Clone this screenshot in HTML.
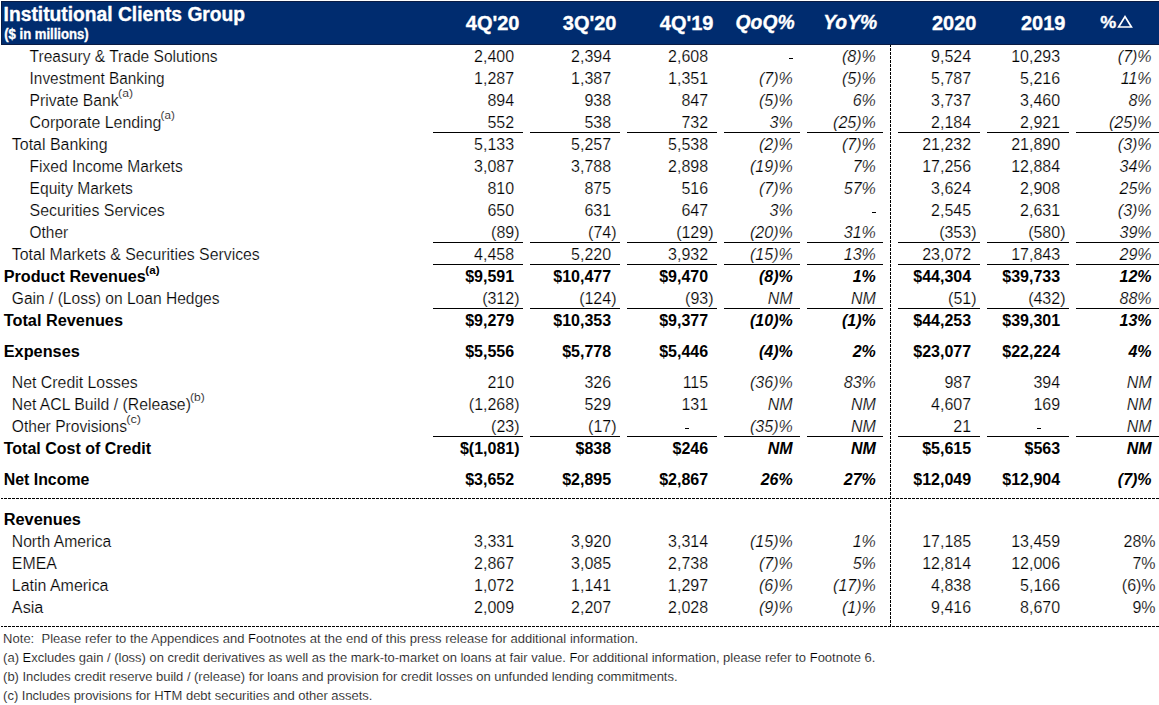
<!DOCTYPE html>
<html><head><meta charset="utf-8"><title>Institutional Clients Group</title>
<style>
html,body{margin:0;padding:0;background:#fff;width:1159px;height:705px;overflow:hidden}
svg{display:block}
text{font-family:"Liberation Sans",sans-serif}
text.t{stroke:#fff;stroke-width:0.2px}
text.h{stroke:#fff;stroke-width:0.35px}
</style></head><body>
<svg width="1159" height="705" viewBox="0 0 1159 705">
<rect x="0" y="0" width="1159" height="705" fill="#fff"/>
<rect x="1" y="1" width="1158" height="44" fill="#002C6F"/>
<rect x="1" y="1" width="1158" height="1" fill="#0A1C44"/>
<rect x="1" y="44" width="1158" height="1" fill="#0A1C44"/>
<rect x="1" y="1" width="1" height="44" fill="#0A1C44"/>
<text class="h" x="3.6" y="21" font-size="20" font-weight="bold" font-style="normal" text-anchor="start" fill="#fff" textLength="241.5" lengthAdjust="spacingAndGlyphs">Institutional Clients Group</text>
<text class="h" x="4.2" y="39" font-size="13.8" font-weight="bold" font-style="normal" text-anchor="start" fill="#fff" textLength="84.5" lengthAdjust="spacingAndGlyphs">($ in millions)</text>
<text class="h" x="519.5" y="30" font-size="20" font-weight="bold" font-style="normal" text-anchor="end" fill="#fff">4Q&#x27;20</text>
<text class="h" x="616.5" y="30" font-size="20" font-weight="bold" font-style="normal" text-anchor="end" fill="#fff">3Q&#x27;20</text>
<text class="h" x="713.5" y="30" font-size="20" font-weight="bold" font-style="normal" text-anchor="end" fill="#fff">4Q&#x27;19</text>
<text class="h" x="794.6" y="29" font-size="20" font-weight="bold" font-style="italic" text-anchor="end" fill="#fff" textLength="59.0" lengthAdjust="spacingAndGlyphs">QoQ%</text>
<text class="h" x="877.2" y="29" font-size="20" font-weight="bold" font-style="italic" text-anchor="end" fill="#fff" textLength="54.0" lengthAdjust="spacingAndGlyphs">YoY%</text>
<text class="h" x="976.5" y="30" font-size="20" font-weight="bold" font-style="normal" text-anchor="end" fill="#fff">2020</text>
<text class="h" x="1065.5" y="30" font-size="20" font-weight="bold" font-style="normal" text-anchor="end" fill="#fff">2019</text>
<text class="h" x="1100.3" y="28" font-size="17" font-weight="bold" font-style="normal" text-anchor="start" fill="#fff" textLength="16" lengthAdjust="spacingAndGlyphs" stroke="#fff" stroke-width="0.5">%</text>
<path d="M1118.6 27 L1125 16.6 L1131.4 27 Z" fill="none" stroke="#fff" stroke-width="1.7" stroke-linejoin="miter"/>
<text class="t" x="29.6" y="62" font-size="16" font-weight="normal" textLength="187.98" lengthAdjust="spacingAndGlyphs">Treasury &amp; Trade Solutions</text>
<text class="t" x="514.17" y="62" font-size="16" font-weight="normal" font-style="normal" text-anchor="end" fill="#000">2,400</text>
<text class="t" x="611.17" y="62" font-size="16" font-weight="normal" font-style="normal" text-anchor="end" fill="#000">2,394</text>
<text class="t" x="708.17" y="62" font-size="16" font-weight="normal" font-style="normal" text-anchor="end" fill="#000">2,608</text>
<rect x="789" y="58" width="4" height="1" fill="#000"/>
<text class="t" x="875.8" y="62" font-size="16" font-weight="normal" font-style="italic" text-anchor="end" fill="#000">(8)%</text>
<text class="t" x="971.17" y="62" font-size="16" font-weight="normal" font-style="normal" text-anchor="end" fill="#000">9,524</text>
<text class="t" x="1060.17" y="62" font-size="16" font-weight="normal" font-style="normal" text-anchor="end" fill="#000">10,293</text>
<text class="t" x="1151.6" y="62" font-size="16" font-weight="normal" font-style="italic" text-anchor="end" fill="#000">(7)%</text>
<text class="t" x="29.6" y="84" font-size="16" font-weight="normal" textLength="134.93" lengthAdjust="spacingAndGlyphs">Investment Banking</text>
<text class="t" x="514.17" y="84" font-size="16" font-weight="normal" font-style="normal" text-anchor="end" fill="#000">1,287</text>
<text class="t" x="611.17" y="84" font-size="16" font-weight="normal" font-style="normal" text-anchor="end" fill="#000">1,387</text>
<text class="t" x="708.17" y="84" font-size="16" font-weight="normal" font-style="normal" text-anchor="end" fill="#000">1,351</text>
<text class="t" x="792.7" y="84" font-size="16" font-weight="normal" font-style="italic" text-anchor="end" fill="#000">(7)%</text>
<text class="t" x="875.8" y="84" font-size="16" font-weight="normal" font-style="italic" text-anchor="end" fill="#000">(5)%</text>
<text class="t" x="971.17" y="84" font-size="16" font-weight="normal" font-style="normal" text-anchor="end" fill="#000">5,787</text>
<text class="t" x="1060.17" y="84" font-size="16" font-weight="normal" font-style="normal" text-anchor="end" fill="#000">5,216</text>
<text class="t" x="1151.6" y="84" font-size="16" font-weight="normal" font-style="italic" text-anchor="end" fill="#000">11%</text>
<text class="t" x="29.6" y="106" font-size="16" font-weight="normal" textLength="88.88" lengthAdjust="spacingAndGlyphs">Private Bank</text>
<text class="t" x="118.1" y="97" font-size="11" font-weight="normal" textLength="14.9" lengthAdjust="spacingAndGlyphs">(a)</text>
<text class="t" x="514.17" y="106" font-size="16" font-weight="normal" font-style="normal" text-anchor="end" fill="#000">894</text>
<text class="t" x="611.17" y="106" font-size="16" font-weight="normal" font-style="normal" text-anchor="end" fill="#000">938</text>
<text class="t" x="708.17" y="106" font-size="16" font-weight="normal" font-style="normal" text-anchor="end" fill="#000">847</text>
<text class="t" x="792.7" y="106" font-size="16" font-weight="normal" font-style="italic" text-anchor="end" fill="#000">(5)%</text>
<text class="t" x="875.8" y="106" font-size="16" font-weight="normal" font-style="italic" text-anchor="end" fill="#000">6%</text>
<text class="t" x="971.17" y="106" font-size="16" font-weight="normal" font-style="normal" text-anchor="end" fill="#000">3,737</text>
<text class="t" x="1060.17" y="106" font-size="16" font-weight="normal" font-style="normal" text-anchor="end" fill="#000">3,460</text>
<text class="t" x="1151.6" y="106" font-size="16" font-weight="normal" font-style="italic" text-anchor="end" fill="#000">8%</text>
<text class="t" x="29.6" y="128" font-size="16" font-weight="normal" textLength="131.73" lengthAdjust="spacingAndGlyphs">Corporate Lending</text>
<text class="t" x="160.6" y="119" font-size="11" font-weight="normal" textLength="14.2" lengthAdjust="spacingAndGlyphs">(a)</text>
<text class="t" x="514.17" y="128" font-size="16" font-weight="normal" font-style="normal" text-anchor="end" fill="#000">552</text>
<text class="t" x="611.17" y="128" font-size="16" font-weight="normal" font-style="normal" text-anchor="end" fill="#000">538</text>
<text class="t" x="708.17" y="128" font-size="16" font-weight="normal" font-style="normal" text-anchor="end" fill="#000">732</text>
<text class="t" x="792.7" y="128" font-size="16" font-weight="normal" font-style="italic" text-anchor="end" fill="#000">3%</text>
<text class="t" x="875.8" y="128" font-size="16" font-weight="normal" font-style="italic" text-anchor="end" fill="#000">(25)%</text>
<text class="t" x="971.17" y="128" font-size="16" font-weight="normal" font-style="normal" text-anchor="end" fill="#000">2,184</text>
<text class="t" x="1060.17" y="128" font-size="16" font-weight="normal" font-style="normal" text-anchor="end" fill="#000">2,921</text>
<text class="t" x="1151.6" y="128" font-size="16" font-weight="normal" font-style="italic" text-anchor="end" fill="#000">(25)%</text>
<text class="t" x="11.8" y="150" font-size="16" font-weight="normal" textLength="95.73" lengthAdjust="spacingAndGlyphs">Total Banking</text>
<text class="t" x="514.17" y="150" font-size="16" font-weight="normal" font-style="normal" text-anchor="end" fill="#000">5,133</text>
<text class="t" x="611.17" y="150" font-size="16" font-weight="normal" font-style="normal" text-anchor="end" fill="#000">5,257</text>
<text class="t" x="708.17" y="150" font-size="16" font-weight="normal" font-style="normal" text-anchor="end" fill="#000">5,538</text>
<text class="t" x="792.7" y="150" font-size="16" font-weight="normal" font-style="italic" text-anchor="end" fill="#000">(2)%</text>
<text class="t" x="875.8" y="150" font-size="16" font-weight="normal" font-style="italic" text-anchor="end" fill="#000">(7)%</text>
<text class="t" x="971.17" y="150" font-size="16" font-weight="normal" font-style="normal" text-anchor="end" fill="#000">21,232</text>
<text class="t" x="1060.17" y="150" font-size="16" font-weight="normal" font-style="normal" text-anchor="end" fill="#000">21,890</text>
<text class="t" x="1151.6" y="150" font-size="16" font-weight="normal" font-style="italic" text-anchor="end" fill="#000">(3)%</text>
<text class="t" x="29.6" y="172" font-size="16" font-weight="normal" textLength="153.08" lengthAdjust="spacingAndGlyphs">Fixed Income Markets</text>
<text class="t" x="514.17" y="172" font-size="16" font-weight="normal" font-style="normal" text-anchor="end" fill="#000">3,087</text>
<text class="t" x="611.17" y="172" font-size="16" font-weight="normal" font-style="normal" text-anchor="end" fill="#000">3,788</text>
<text class="t" x="708.17" y="172" font-size="16" font-weight="normal" font-style="normal" text-anchor="end" fill="#000">2,898</text>
<text class="t" x="792.7" y="172" font-size="16" font-weight="normal" font-style="italic" text-anchor="end" fill="#000">(19)%</text>
<text class="t" x="875.8" y="172" font-size="16" font-weight="normal" font-style="italic" text-anchor="end" fill="#000">7%</text>
<text class="t" x="971.17" y="172" font-size="16" font-weight="normal" font-style="normal" text-anchor="end" fill="#000">17,256</text>
<text class="t" x="1060.17" y="172" font-size="16" font-weight="normal" font-style="normal" text-anchor="end" fill="#000">12,884</text>
<text class="t" x="1151.6" y="172" font-size="16" font-weight="normal" font-style="italic" text-anchor="end" fill="#000">34%</text>
<text class="t" x="29.6" y="194" font-size="16" font-weight="normal" textLength="103.18" lengthAdjust="spacingAndGlyphs">Equity Markets</text>
<text class="t" x="514.17" y="194" font-size="16" font-weight="normal" font-style="normal" text-anchor="end" fill="#000">810</text>
<text class="t" x="611.17" y="194" font-size="16" font-weight="normal" font-style="normal" text-anchor="end" fill="#000">875</text>
<text class="t" x="708.17" y="194" font-size="16" font-weight="normal" font-style="normal" text-anchor="end" fill="#000">516</text>
<text class="t" x="792.7" y="194" font-size="16" font-weight="normal" font-style="italic" text-anchor="end" fill="#000">(7)%</text>
<text class="t" x="875.8" y="194" font-size="16" font-weight="normal" font-style="italic" text-anchor="end" fill="#000">57%</text>
<text class="t" x="971.17" y="194" font-size="16" font-weight="normal" font-style="normal" text-anchor="end" fill="#000">3,624</text>
<text class="t" x="1060.17" y="194" font-size="16" font-weight="normal" font-style="normal" text-anchor="end" fill="#000">2,908</text>
<text class="t" x="1151.6" y="194" font-size="16" font-weight="normal" font-style="italic" text-anchor="end" fill="#000">25%</text>
<text class="t" x="29.6" y="216" font-size="16" font-weight="normal" textLength="135.18" lengthAdjust="spacingAndGlyphs">Securities Services</text>
<text class="t" x="514.17" y="216" font-size="16" font-weight="normal" font-style="normal" text-anchor="end" fill="#000">650</text>
<text class="t" x="611.17" y="216" font-size="16" font-weight="normal" font-style="normal" text-anchor="end" fill="#000">631</text>
<text class="t" x="708.17" y="216" font-size="16" font-weight="normal" font-style="normal" text-anchor="end" fill="#000">647</text>
<text class="t" x="792.7" y="216" font-size="16" font-weight="normal" font-style="italic" text-anchor="end" fill="#000">3%</text>
<rect x="872" y="212" width="4" height="1" fill="#000"/>
<text class="t" x="971.17" y="216" font-size="16" font-weight="normal" font-style="normal" text-anchor="end" fill="#000">2,545</text>
<text class="t" x="1060.17" y="216" font-size="16" font-weight="normal" font-style="normal" text-anchor="end" fill="#000">2,631</text>
<text class="t" x="1151.6" y="216" font-size="16" font-weight="normal" font-style="italic" text-anchor="end" fill="#000">(3)%</text>
<text class="t" x="29.6" y="238" font-size="16" font-weight="normal" textLength="38.57" lengthAdjust="spacingAndGlyphs">Other</text>
<text class="t" x="519.5" y="238" font-size="16" font-weight="normal" font-style="normal" text-anchor="end" fill="#000">(89)</text>
<text class="t" x="616.5" y="238" font-size="16" font-weight="normal" font-style="normal" text-anchor="end" fill="#000">(74)</text>
<text class="t" x="713.5" y="238" font-size="16" font-weight="normal" font-style="normal" text-anchor="end" fill="#000">(129)</text>
<text class="t" x="792.7" y="238" font-size="16" font-weight="normal" font-style="italic" text-anchor="end" fill="#000">(20)%</text>
<text class="t" x="875.8" y="238" font-size="16" font-weight="normal" font-style="italic" text-anchor="end" fill="#000">31%</text>
<text class="t" x="976.5" y="238" font-size="16" font-weight="normal" font-style="normal" text-anchor="end" fill="#000">(353)</text>
<text class="t" x="1065.5" y="238" font-size="16" font-weight="normal" font-style="normal" text-anchor="end" fill="#000">(580)</text>
<text class="t" x="1151.6" y="238" font-size="16" font-weight="normal" font-style="italic" text-anchor="end" fill="#000">39%</text>
<text class="t" x="11.8" y="260" font-size="16" font-weight="normal" textLength="247.98" lengthAdjust="spacingAndGlyphs">Total Markets &amp; Securities Services</text>
<text class="t" x="514.17" y="260" font-size="16" font-weight="normal" font-style="normal" text-anchor="end" fill="#000">4,458</text>
<text class="t" x="611.17" y="260" font-size="16" font-weight="normal" font-style="normal" text-anchor="end" fill="#000">5,220</text>
<text class="t" x="708.17" y="260" font-size="16" font-weight="normal" font-style="normal" text-anchor="end" fill="#000">3,932</text>
<text class="t" x="792.7" y="260" font-size="16" font-weight="normal" font-style="italic" text-anchor="end" fill="#000">(15)%</text>
<text class="t" x="875.8" y="260" font-size="16" font-weight="normal" font-style="italic" text-anchor="end" fill="#000">13%</text>
<text class="t" x="971.17" y="260" font-size="16" font-weight="normal" font-style="normal" text-anchor="end" fill="#000">23,072</text>
<text class="t" x="1060.17" y="260" font-size="16" font-weight="normal" font-style="normal" text-anchor="end" fill="#000">17,843</text>
<text class="t" x="1151.6" y="260" font-size="16" font-weight="normal" font-style="italic" text-anchor="end" fill="#000">29%</text>
<text x="3.75" y="282" font-size="16" font-weight="bold" textLength="142.11" lengthAdjust="spacingAndGlyphs">Product Revenues</text>
<text x="145.35" y="274" font-size="11" font-weight="bold" textLength="14.2" lengthAdjust="spacingAndGlyphs">(a)</text>
<text x="514.17" y="282" font-size="16" font-weight="bold" font-style="normal" text-anchor="end" fill="#000">$9,591</text>
<text x="611.17" y="282" font-size="16" font-weight="bold" font-style="normal" text-anchor="end" fill="#000">$10,477</text>
<text x="708.17" y="282" font-size="16" font-weight="bold" font-style="normal" text-anchor="end" fill="#000">$9,470</text>
<text x="792.7" y="282" font-size="16" font-weight="bold" font-style="italic" text-anchor="end" fill="#000">(8)%</text>
<text x="875.8" y="282" font-size="16" font-weight="bold" font-style="italic" text-anchor="end" fill="#000">1%</text>
<text x="971.17" y="282" font-size="16" font-weight="bold" font-style="normal" text-anchor="end" fill="#000">$44,304</text>
<text x="1060.17" y="282" font-size="16" font-weight="bold" font-style="normal" text-anchor="end" fill="#000">$39,733</text>
<text x="1151.6" y="282" font-size="16" font-weight="bold" font-style="italic" text-anchor="end" fill="#000">12%</text>
<text class="t" x="11.8" y="304" font-size="16" font-weight="normal" textLength="207.78" lengthAdjust="spacingAndGlyphs">Gain / (Loss) on Loan Hedges</text>
<text class="t" x="519.5" y="304" font-size="16" font-weight="normal" font-style="normal" text-anchor="end" fill="#000">(312)</text>
<text class="t" x="616.5" y="304" font-size="16" font-weight="normal" font-style="normal" text-anchor="end" fill="#000">(124)</text>
<text class="t" x="713.5" y="304" font-size="16" font-weight="normal" font-style="normal" text-anchor="end" fill="#000">(93)</text>
<text class="t" x="792.7" y="304" font-size="16" font-weight="normal" font-style="italic" text-anchor="end" fill="#000">NM</text>
<text class="t" x="875.8" y="304" font-size="16" font-weight="normal" font-style="italic" text-anchor="end" fill="#000">NM</text>
<text class="t" x="976.5" y="304" font-size="16" font-weight="normal" font-style="normal" text-anchor="end" fill="#000">(51)</text>
<text class="t" x="1065.5" y="304" font-size="16" font-weight="normal" font-style="normal" text-anchor="end" fill="#000">(432)</text>
<text class="t" x="1151.6" y="304" font-size="16" font-weight="normal" font-style="italic" text-anchor="end" fill="#000">88%</text>
<text x="3.75" y="326" font-size="16" font-weight="bold" textLength="119.21" lengthAdjust="spacingAndGlyphs">Total Revenues</text>
<text x="514.17" y="326" font-size="16" font-weight="bold" font-style="normal" text-anchor="end" fill="#000">$9,279</text>
<text x="611.17" y="326" font-size="16" font-weight="bold" font-style="normal" text-anchor="end" fill="#000">$10,353</text>
<text x="708.17" y="326" font-size="16" font-weight="bold" font-style="normal" text-anchor="end" fill="#000">$9,377</text>
<text x="792.7" y="326" font-size="16" font-weight="bold" font-style="italic" text-anchor="end" fill="#000">(10)%</text>
<text x="875.8" y="326" font-size="16" font-weight="bold" font-style="italic" text-anchor="end" fill="#000">(1)%</text>
<text x="971.17" y="326" font-size="16" font-weight="bold" font-style="normal" text-anchor="end" fill="#000">$44,253</text>
<text x="1060.17" y="326" font-size="16" font-weight="bold" font-style="normal" text-anchor="end" fill="#000">$39,301</text>
<text x="1151.6" y="326" font-size="16" font-weight="bold" font-style="italic" text-anchor="end" fill="#000">13%</text>
<text x="3.75" y="357" font-size="16" font-weight="bold" textLength="76.01" lengthAdjust="spacingAndGlyphs">Expenses</text>
<text x="514.17" y="357" font-size="16" font-weight="bold" font-style="normal" text-anchor="end" fill="#000">$5,556</text>
<text x="611.17" y="357" font-size="16" font-weight="bold" font-style="normal" text-anchor="end" fill="#000">$5,778</text>
<text x="708.17" y="357" font-size="16" font-weight="bold" font-style="normal" text-anchor="end" fill="#000">$5,446</text>
<text x="792.7" y="357" font-size="16" font-weight="bold" font-style="italic" text-anchor="end" fill="#000">(4)%</text>
<text x="875.8" y="357" font-size="16" font-weight="bold" font-style="italic" text-anchor="end" fill="#000">2%</text>
<text x="971.17" y="357" font-size="16" font-weight="bold" font-style="normal" text-anchor="end" fill="#000">$23,077</text>
<text x="1060.17" y="357" font-size="16" font-weight="bold" font-style="normal" text-anchor="end" fill="#000">$22,224</text>
<text x="1151.6" y="357" font-size="16" font-weight="bold" font-style="italic" text-anchor="end" fill="#000">4%</text>
<text class="t" x="11.8" y="388" font-size="16" font-weight="normal" textLength="125.98" lengthAdjust="spacingAndGlyphs">Net Credit Losses</text>
<text class="t" x="514.17" y="388" font-size="16" font-weight="normal" font-style="normal" text-anchor="end" fill="#000">210</text>
<text class="t" x="611.17" y="388" font-size="16" font-weight="normal" font-style="normal" text-anchor="end" fill="#000">326</text>
<text class="t" x="708.17" y="388" font-size="16" font-weight="normal" font-style="normal" text-anchor="end" fill="#000">115</text>
<text class="t" x="792.7" y="388" font-size="16" font-weight="normal" font-style="italic" text-anchor="end" fill="#000">(36)%</text>
<text class="t" x="875.8" y="388" font-size="16" font-weight="normal" font-style="italic" text-anchor="end" fill="#000">83%</text>
<text class="t" x="971.17" y="388" font-size="16" font-weight="normal" font-style="normal" text-anchor="end" fill="#000">987</text>
<text class="t" x="1060.17" y="388" font-size="16" font-weight="normal" font-style="normal" text-anchor="end" fill="#000">394</text>
<text class="t" x="1151.6" y="388" font-size="16" font-weight="normal" font-style="italic" text-anchor="end" fill="#000">NM</text>
<text class="t" x="11.8" y="410" font-size="16" font-weight="normal" textLength="179.09" lengthAdjust="spacingAndGlyphs">Net ACL Build / (Release)</text>
<text class="t" x="190.0" y="401" font-size="11" font-weight="normal" textLength="14.8" lengthAdjust="spacingAndGlyphs">(b)</text>
<text class="t" x="519.5" y="410" font-size="16" font-weight="normal" font-style="normal" text-anchor="end" fill="#000">(1,268)</text>
<text class="t" x="611.17" y="410" font-size="16" font-weight="normal" font-style="normal" text-anchor="end" fill="#000">529</text>
<text class="t" x="708.17" y="410" font-size="16" font-weight="normal" font-style="normal" text-anchor="end" fill="#000">131</text>
<text class="t" x="792.7" y="410" font-size="16" font-weight="normal" font-style="italic" text-anchor="end" fill="#000">NM</text>
<text class="t" x="875.8" y="410" font-size="16" font-weight="normal" font-style="italic" text-anchor="end" fill="#000">NM</text>
<text class="t" x="971.17" y="410" font-size="16" font-weight="normal" font-style="normal" text-anchor="end" fill="#000">4,607</text>
<text class="t" x="1060.17" y="410" font-size="16" font-weight="normal" font-style="normal" text-anchor="end" fill="#000">169</text>
<text class="t" x="1151.6" y="410" font-size="16" font-weight="normal" font-style="italic" text-anchor="end" fill="#000">NM</text>
<text class="t" x="11.8" y="432" font-size="16" font-weight="normal" textLength="115.28" lengthAdjust="spacingAndGlyphs">Other Provisions</text>
<text class="t" x="126.2" y="423" font-size="11" font-weight="normal" textLength="14.8" lengthAdjust="spacingAndGlyphs">(c)</text>
<text class="t" x="519.5" y="432" font-size="16" font-weight="normal" font-style="normal" text-anchor="end" fill="#000">(23)</text>
<text class="t" x="616.5" y="432" font-size="16" font-weight="normal" font-style="normal" text-anchor="end" fill="#000">(17)</text>
<rect x="685" y="428" width="4" height="1" fill="#000"/>
<text class="t" x="792.7" y="432" font-size="16" font-weight="normal" font-style="italic" text-anchor="end" fill="#000">(35)%</text>
<text class="t" x="875.8" y="432" font-size="16" font-weight="normal" font-style="italic" text-anchor="end" fill="#000">NM</text>
<text class="t" x="971.17" y="432" font-size="16" font-weight="normal" font-style="normal" text-anchor="end" fill="#000">21</text>
<rect x="1037" y="428" width="4" height="1" fill="#000"/>
<text class="t" x="1151.6" y="432" font-size="16" font-weight="normal" font-style="italic" text-anchor="end" fill="#000">NM</text>
<text x="3.75" y="454" font-size="16" font-weight="bold" textLength="147.25" lengthAdjust="spacingAndGlyphs">Total Cost of Credit</text>
<text x="519.5" y="454" font-size="16" font-weight="bold" font-style="normal" text-anchor="end" fill="#000">$(1,081)</text>
<text x="611.17" y="454" font-size="16" font-weight="bold" font-style="normal" text-anchor="end" fill="#000">$838</text>
<text x="708.17" y="454" font-size="16" font-weight="bold" font-style="normal" text-anchor="end" fill="#000">$246</text>
<text x="792.7" y="454" font-size="16" font-weight="bold" font-style="italic" text-anchor="end" fill="#000">NM</text>
<text x="875.8" y="454" font-size="16" font-weight="bold" font-style="italic" text-anchor="end" fill="#000">NM</text>
<text x="971.17" y="454" font-size="16" font-weight="bold" font-style="normal" text-anchor="end" fill="#000">$5,615</text>
<text x="1060.17" y="454" font-size="16" font-weight="bold" font-style="normal" text-anchor="end" fill="#000">$563</text>
<text x="1151.6" y="454" font-size="16" font-weight="bold" font-style="italic" text-anchor="end" fill="#000">NM</text>
<text x="3.75" y="485" font-size="16" font-weight="bold" textLength="85.60" lengthAdjust="spacingAndGlyphs">Net Income</text>
<text x="514.17" y="485" font-size="16" font-weight="bold" font-style="normal" text-anchor="end" fill="#000">$3,652</text>
<text x="611.17" y="485" font-size="16" font-weight="bold" font-style="normal" text-anchor="end" fill="#000">$2,895</text>
<text x="708.17" y="485" font-size="16" font-weight="bold" font-style="normal" text-anchor="end" fill="#000">$2,867</text>
<text x="792.7" y="485" font-size="16" font-weight="bold" font-style="italic" text-anchor="end" fill="#000">26%</text>
<text x="875.8" y="485" font-size="16" font-weight="bold" font-style="italic" text-anchor="end" fill="#000">27%</text>
<text x="971.17" y="485" font-size="16" font-weight="bold" font-style="normal" text-anchor="end" fill="#000">$12,049</text>
<text x="1060.17" y="485" font-size="16" font-weight="bold" font-style="normal" text-anchor="end" fill="#000">$12,904</text>
<text x="1151.6" y="485" font-size="16" font-weight="bold" font-style="italic" text-anchor="end" fill="#000">(7)%</text>
<text x="3.75" y="525" font-size="16" font-weight="bold" textLength="77.11" lengthAdjust="spacingAndGlyphs">Revenues</text>
<text class="t" x="11.8" y="547" font-size="16" font-weight="normal" textLength="99.50" lengthAdjust="spacingAndGlyphs">North America</text>
<text class="t" x="514.17" y="547" font-size="16" font-weight="normal" font-style="normal" text-anchor="end" fill="#000">3,331</text>
<text class="t" x="611.17" y="547" font-size="16" font-weight="normal" font-style="normal" text-anchor="end" fill="#000">3,920</text>
<text class="t" x="708.17" y="547" font-size="16" font-weight="normal" font-style="normal" text-anchor="end" fill="#000">3,314</text>
<text class="t" x="792.7" y="547" font-size="16" font-weight="normal" font-style="italic" text-anchor="end" fill="#000">(15)%</text>
<text class="t" x="875.8" y="547" font-size="16" font-weight="normal" font-style="italic" text-anchor="end" fill="#000">1%</text>
<text class="t" x="971.17" y="547" font-size="16" font-weight="normal" font-style="normal" text-anchor="end" fill="#000">17,185</text>
<text class="t" x="1060.17" y="547" font-size="16" font-weight="normal" font-style="normal" text-anchor="end" fill="#000">13,459</text>
<text class="t" x="1155.6" y="547" font-size="16" font-weight="normal" font-style="normal" text-anchor="end" fill="#000">28%</text>
<text class="t" x="11.8" y="569" font-size="16" font-weight="normal" textLength="45.03" lengthAdjust="spacingAndGlyphs">EMEA</text>
<text class="t" x="514.17" y="569" font-size="16" font-weight="normal" font-style="normal" text-anchor="end" fill="#000">2,867</text>
<text class="t" x="611.17" y="569" font-size="16" font-weight="normal" font-style="normal" text-anchor="end" fill="#000">3,085</text>
<text class="t" x="708.17" y="569" font-size="16" font-weight="normal" font-style="normal" text-anchor="end" fill="#000">2,738</text>
<text class="t" x="792.7" y="569" font-size="16" font-weight="normal" font-style="italic" text-anchor="end" fill="#000">(7)%</text>
<text class="t" x="875.8" y="569" font-size="16" font-weight="normal" font-style="italic" text-anchor="end" fill="#000">5%</text>
<text class="t" x="971.17" y="569" font-size="16" font-weight="normal" font-style="normal" text-anchor="end" fill="#000">12,814</text>
<text class="t" x="1060.17" y="569" font-size="16" font-weight="normal" font-style="normal" text-anchor="end" fill="#000">12,006</text>
<text class="t" x="1155.6" y="569" font-size="16" font-weight="normal" font-style="normal" text-anchor="end" fill="#000">7%</text>
<text class="t" x="11.8" y="591" font-size="16" font-weight="normal" textLength="96.70" lengthAdjust="spacingAndGlyphs">Latin America</text>
<text class="t" x="514.17" y="591" font-size="16" font-weight="normal" font-style="normal" text-anchor="end" fill="#000">1,072</text>
<text class="t" x="611.17" y="591" font-size="16" font-weight="normal" font-style="normal" text-anchor="end" fill="#000">1,141</text>
<text class="t" x="708.17" y="591" font-size="16" font-weight="normal" font-style="normal" text-anchor="end" fill="#000">1,297</text>
<text class="t" x="792.7" y="591" font-size="16" font-weight="normal" font-style="italic" text-anchor="end" fill="#000">(6)%</text>
<text class="t" x="875.8" y="591" font-size="16" font-weight="normal" font-style="italic" text-anchor="end" fill="#000">(17)%</text>
<text class="t" x="971.17" y="591" font-size="16" font-weight="normal" font-style="normal" text-anchor="end" fill="#000">4,838</text>
<text class="t" x="1060.17" y="591" font-size="16" font-weight="normal" font-style="normal" text-anchor="end" fill="#000">5,166</text>
<text class="t" x="1155.6" y="591" font-size="16" font-weight="normal" font-style="normal" text-anchor="end" fill="#000">(6)%</text>
<text class="t" x="11.8" y="613" font-size="16" font-weight="normal" textLength="31.60" lengthAdjust="spacingAndGlyphs">Asia</text>
<text class="t" x="514.17" y="613" font-size="16" font-weight="normal" font-style="normal" text-anchor="end" fill="#000">2,009</text>
<text class="t" x="611.17" y="613" font-size="16" font-weight="normal" font-style="normal" text-anchor="end" fill="#000">2,207</text>
<text class="t" x="708.17" y="613" font-size="16" font-weight="normal" font-style="normal" text-anchor="end" fill="#000">2,028</text>
<text class="t" x="792.7" y="613" font-size="16" font-weight="normal" font-style="italic" text-anchor="end" fill="#000">(9)%</text>
<text class="t" x="875.8" y="613" font-size="16" font-weight="normal" font-style="italic" text-anchor="end" fill="#000">(1)%</text>
<text class="t" x="971.17" y="613" font-size="16" font-weight="normal" font-style="normal" text-anchor="end" fill="#000">9,416</text>
<text class="t" x="1060.17" y="613" font-size="16" font-weight="normal" font-style="normal" text-anchor="end" fill="#000">8,670</text>
<text class="t" x="1155.6" y="613" font-size="16" font-weight="normal" font-style="normal" text-anchor="end" fill="#000">9%</text>
<rect x="433" y="132" width="90" height="1" fill="#000"/>
<rect x="530" y="132" width="90" height="1" fill="#000"/>
<rect x="627" y="132" width="90" height="1" fill="#000"/>
<rect x="724" y="132" width="76" height="1" fill="#000"/>
<rect x="807" y="132" width="76" height="1" fill="#000"/>
<rect x="898" y="132" width="82" height="1" fill="#000"/>
<rect x="987" y="132" width="82" height="1" fill="#000"/>
<rect x="1076" y="132" width="83" height="1" fill="#000"/>
<rect x="433" y="242" width="90" height="1" fill="#000"/>
<rect x="530" y="242" width="90" height="1" fill="#000"/>
<rect x="627" y="242" width="90" height="1" fill="#000"/>
<rect x="724" y="242" width="76" height="1" fill="#000"/>
<rect x="807" y="242" width="76" height="1" fill="#000"/>
<rect x="898" y="242" width="82" height="1" fill="#000"/>
<rect x="987" y="242" width="82" height="1" fill="#000"/>
<rect x="1076" y="242" width="83" height="1" fill="#000"/>
<rect x="433" y="264" width="90" height="1" fill="#000"/>
<rect x="530" y="264" width="90" height="1" fill="#000"/>
<rect x="627" y="264" width="90" height="1" fill="#000"/>
<rect x="724" y="264" width="76" height="1" fill="#000"/>
<rect x="807" y="264" width="76" height="1" fill="#000"/>
<rect x="898" y="264" width="82" height="1" fill="#000"/>
<rect x="987" y="264" width="82" height="1" fill="#000"/>
<rect x="1076" y="264" width="83" height="1" fill="#000"/>
<rect x="433" y="308" width="90" height="1" fill="#000"/>
<rect x="530" y="308" width="90" height="1" fill="#000"/>
<rect x="627" y="308" width="90" height="1" fill="#000"/>
<rect x="724" y="308" width="76" height="1" fill="#000"/>
<rect x="807" y="308" width="76" height="1" fill="#000"/>
<rect x="898" y="308" width="82" height="1" fill="#000"/>
<rect x="987" y="308" width="82" height="1" fill="#000"/>
<rect x="1076" y="308" width="83" height="1" fill="#000"/>
<rect x="433" y="436" width="90" height="1" fill="#000"/>
<rect x="530" y="436" width="90" height="1" fill="#000"/>
<rect x="627" y="436" width="90" height="1" fill="#000"/>
<rect x="724" y="436" width="76" height="1" fill="#000"/>
<rect x="807" y="436" width="76" height="1" fill="#000"/>
<rect x="898" y="436" width="82" height="1" fill="#000"/>
<rect x="987" y="436" width="82" height="1" fill="#000"/>
<rect x="1076" y="436" width="83" height="1" fill="#000"/>
<line x1="1" y1="498.5" x2="1159" y2="498.5" stroke="#000" stroke-width="1" stroke-dasharray="3 1" stroke-dashoffset="1"/>
<line x1="1" y1="626.5" x2="1159" y2="626.5" stroke="#000" stroke-width="1" stroke-dasharray="3 1" stroke-dashoffset="1"/>
<line x1="890.5" y1="45" x2="890.5" y2="627" stroke="#000" stroke-width="1" stroke-dasharray="3 1" stroke-dashoffset="1"/>
<text class="t" x="3.1" y="643" font-size="13" xml:space="preserve" style="white-space:pre" textLength="634.9">Note:  Please refer to the Appendices and Footnotes at the end of this press release for additional information.</text>
<text class="t" x="3.1" y="662" font-size="13" xml:space="preserve" style="white-space:pre" textLength="872.3">(a) Excludes gain / (loss) on credit derivatives as well as the mark-to-market on loans at fair value. For additional information, please refer to Footnote 6.</text>
<text class="t" x="3.1" y="681" font-size="13" xml:space="preserve" style="white-space:pre" textLength="674.4">(b) Includes credit reserve build / (release) for loans and provision for credit losses on unfunded lending commitments.</text>
<text class="t" x="3.1" y="700" font-size="13" xml:space="preserve" style="white-space:pre" textLength="369.3">(c) Includes provisions for HTM debt securities and other assets.</text>
</svg>
</body></html>
